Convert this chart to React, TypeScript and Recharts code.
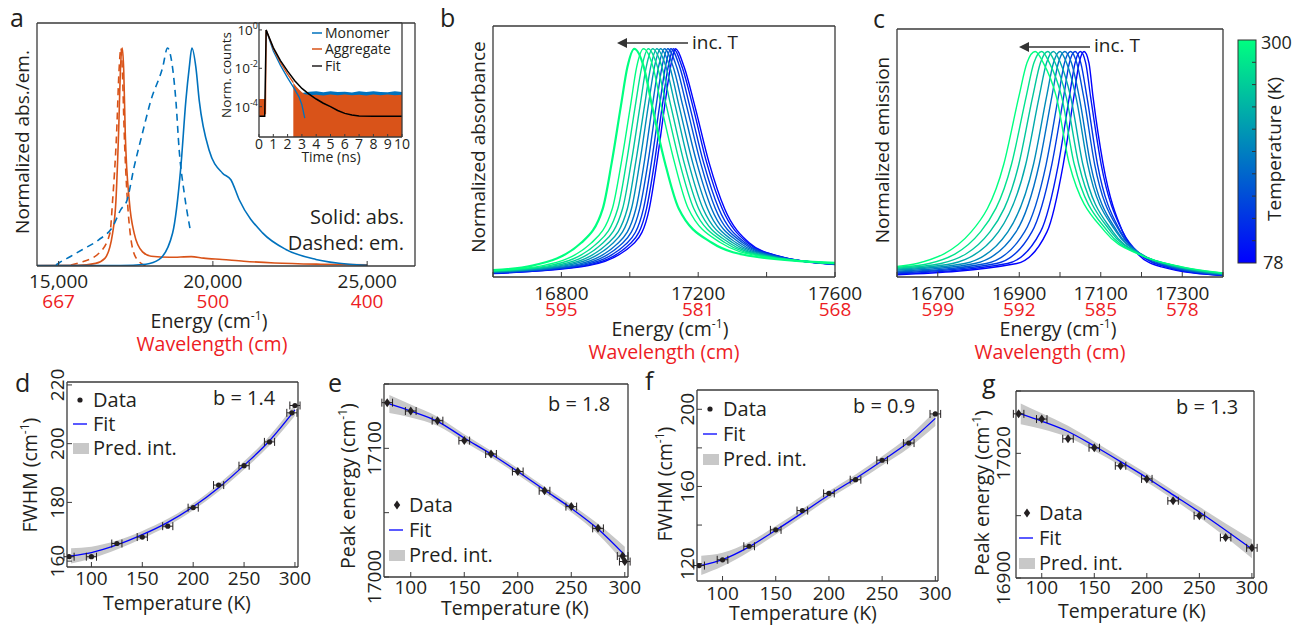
import React from "react";
import { LineChart, ComposedChart, Line, Area, Scatter, ErrorBar, XAxis, YAxis } from "recharts";

const FONT = "'Open Sans', 'DejaVu Sans', sans-serif";
const INK = "#231f20";
const RED = "#ed1c24";
const AXIS = "#3a3a3a";
const BLUE = "#0072bd";
const ORANGE = "#d95319";
const FIT = "#0000ff";
const BAND = "#c8c8c8";

// ---------- panel a: monomer / aggregate spectra ----------
const aDomain = [14300, 26550];
const aTicks = [15000, 20000, 25000];
const aTickText = ["15,000", "20,000", "25,000"];
const aWave = ["667", "500", "400"];

const monoAbsE = [14300, 17000, 17829, 18261, 18693, 18963, 19125, 19234, 19320, 19450, 19557, 19881, 20313, 20583, 20853, 21609, 22365, 23337, 24417, 25000];
const monoAbsV = [0.002, 0.002, 0.008, 0.03, 0.15, 0.457, 0.76, 0.91, 1.0, 0.91, 0.76, 0.53, 0.426, 0.396, 0.304, 0.152, 0.076, 0.03, 0.008, 0.003];
const monoEmE = [14914, 15022, 15400, 15777, 16300, 16750, 17020, 17214, 17451, 17700, 17991, 18370, 18531, 18693, 18800, 18909, 19071, 19266];
const monoEmV = [0.005, 0.015, 0.045, 0.076, 0.12, 0.18, 0.26, 0.3, 0.457, 0.6, 0.76, 0.91, 1.0, 0.91, 0.76, 0.53, 0.335, 0.167];
const aggAbsE = [14300, 15600, 16200, 16500, 16750, 16858, 16944, 17010, 17063, 17110, 17160, 17290, 17450, 17720, 18000, 18600, 19300, 19700, 20300, 21000, 22000, 23500, 25000];
const aggAbsV = [0.002, 0.003, 0.012, 0.035, 0.15, 0.3, 0.61, 0.92, 1.0, 0.9, 0.61, 0.3, 0.15, 0.065, 0.045, 0.04, 0.043, 0.036, 0.03, 0.022, 0.014, 0.008, 0.005];
const aggEmE = [15400, 15670, 16318, 16663, 16750, 16880, 16960, 17020, 17070, 17127, 17230, 17320, 17500, 17830];
const aggEmV = [0.005, 0.015, 0.06, 0.15, 0.3, 0.61, 0.9, 1.0, 0.88, 0.61, 0.3, 0.15, 0.04, 0.0];

// inset: decay traces, log10 of normalized counts vs time (ns)
const insetDomain = [-5.58, 0.36];
const insetFloor = -5.58;
const fitT = [0, 0.4, 0.5, 1, 1.5, 2, 2.5, 3, 3.5, 4, 4.5, 5, 5.5, 6, 6.5, 7, 8, 10];
const fitLog = [-4.5, -4.5, 0, -0.92, -1.6, -2.15, -2.65, -3.05, -3.35, -3.6, -3.82, -4.0, -4.2, -4.35, -4.43, -4.48, -4.5, -4.5];
const monoT = [0.5, 1, 1.5, 2, 2.5, 2.8, 3.0, 3.2];
const monoLog = [0, -1.1, -1.85, -2.5, -3.1, -3.5, -3.9, -4.6];
const aggT = [0.45, 0.5, 1, 1.5, 2, 2.4];
const aggLog = [-4.4, 0, -0.98, -1.7, -2.3, -2.75];
const aggNoiseT = [2.4, 2.6, 2.8, 3.0, 3.2, 3.6, 4, 4.5, 5, 5.5, 6, 6.5, 7, 7.5, 8, 8.5, 9, 9.5, 10];
const aggNoiseTop = [-2.75, -2.95, -3.1, -3.25, -3.35, -3.4, -3.38, -3.42, -3.37, -3.41, -3.36, -3.4, -3.38, -3.42, -3.37, -3.4, -3.36, -3.41, -3.38];
const monoNoiseT = [2.9, 3.5, 4, 4.5, 5, 5.5, 6, 6.5, 7, 7.5, 8, 8.5, 9, 9.5, 10];
const monoNoiseTop = [-3.3, -3.22, -3.2, -3.25, -3.19, -3.24, -3.22, -3.26, -3.2, -3.24, -3.2, -3.23, -3.25, -3.2, -3.24];
const monoNoiseLow = -3.5;
const preT = [0, 0.42];
const preLow = [-4.5, -4.5];
const preTop = [-3.6, -3.6];
const timeTicks = [0, 1, 2, 3, 4, 5, 6, 7, 8, 9, 10];

// ---------- panel b: absorbance vs temperature ----------
const bDomain = [16600, 17600];
const bTicks = [16600, 16800, 17000, 17200, 17400, 17600];
const bLabelTicks = [16800, 17200, 17600];
const bWave = ["595", "581", "568"];
const absT = [78, 100, 125, 150, 175, 200, 225, 250, 275, 298, 300];
const absLevels = [0.05, 0.15, 0.3, 0.5, 0.75, 0.92, 1, 0.92, 0.75, 0.5, 0.3, 0.15, 0.09];
const absEnergy = [
  [16879, 17014, 17057, 17079, 17102, 17119, 17134, 17159, 17190, 17232, 17277, 17349, 17439],
  [16869, 17004, 17049, 17072, 17095, 17112, 17128, 17153, 17184, 17225, 17270, 17344, 17438],
  [16856, 16993, 17040, 17063, 17087, 17104, 17120, 17146, 17175, 17216, 17260, 17337, 17434],
  [16843, 16980, 17029, 17053, 17077, 17094, 17111, 17137, 17166, 17207, 17250, 17330, 17430],
  [16829, 16967, 17018, 17042, 17066, 17084, 17101, 17127, 17155, 17196, 17239, 17321, 17424],
  [16813, 16952, 17005, 17029, 17054, 17072, 17090, 17117, 17144, 17184, 17227, 17311, 17418],
  [16798, 16938, 16993, 17017, 17043, 17061, 17079, 17106, 17133, 17172, 17214, 17301, 17411],
  [16782, 16922, 16979, 17004, 17030, 17048, 17067, 17094, 17120, 17159, 17201, 17290, 17404],
  [16765, 16906, 16965, 16990, 17016, 17035, 17054, 17081, 17107, 17146, 17187, 17279, 17395],
  [16746, 16888, 16949, 16975, 17002, 17020, 17040, 17068, 17092, 17131, 17171, 17266, 17386],
  [16715, 16858, 16921, 16947, 16974, 16993, 17013, 17041, 17065, 17103, 17143, 17240, 17363],
];
const absEdgeLow = [0.015, 0.016, 0.018, 0.019, 0.021, 0.022, 0.024, 0.025, 0.027, 0.028, 0.03];
const absEdgeHigh = [0.055, 0.056, 0.056, 0.057, 0.058, 0.058, 0.059, 0.06, 0.06, 0.061, 0.062];

// ---------- panel c: emission vs temperature ----------
const cDomain = [16600, 17400];
const cTicks = [16600, 16700, 16800, 16900, 17000, 17100, 17200, 17300, 17400];
const cLabelTicks = [16700, 16900, 17100, 17300];
const cWave = ["599", "592", "585", "578"];
const emT = [78, 100, 125, 150, 175, 200, 225, 250, 275, 300];
const emLevels = [0.06, 0.2, 0.5, 0.8, 0.95, 1, 0.95, 0.8, 0.5, 0.2, 0.1, 0.045];
const emEnergy = [
  [16894, 16968, 17008, 17034, 17047, 17059, 17071, 17081, 17106, 17154, 17192, 17249],
  [16871, 16952, 16996, 17023, 17037, 17050, 17063, 17075, 17101, 17154, 17197, 17259],
  [16844, 16931, 16980, 17009, 17023, 17037, 17051, 17066, 17092, 17149, 17197, 17265],
  [16819, 16913, 16966, 16996, 17011, 17026, 17041, 17058, 17085, 17147, 17200, 17273],
  [16791, 16892, 16949, 16980, 16996, 17012, 17028, 17047, 17075, 17141, 17199, 17278],
  [16766, 16872, 16935, 16967, 16984, 17000, 17016, 17039, 17068, 17138, 17201, 17284],
  [16736, 16849, 16916, 16949, 16967, 16984, 17001, 17026, 17056, 17130, 17198, 17287],
  [16708, 16828, 16899, 16933, 16952, 16970, 16988, 17015, 17046, 17125, 17198, 17292],
  [16679, 16805, 16881, 16917, 16936, 16955, 16974, 17004, 17035, 17118, 17196, 17296],
  [16649, 16782, 16862, 16899, 16919, 16939, 16959, 16991, 17023, 17111, 17194, 17299],
];
const emEdgeLow = [0.01, 0.014, 0.018, 0.022, 0.026, 0.031, 0.035, 0.039, 0.043, 0.047];
const emEdgeHigh = [0.006, 0.007, 0.009, 0.01, 0.011, 0.013, 0.014, 0.015, 0.017, 0.018];

// ---------- panels d-g: widths and peak positions vs temperature ----------
const tempTicks = [100, 150, 200, 250, 300];
const tempErr = 5;
const fitTemps = [80, 100, 125, 150, 175, 200, 225, 250, 275, 300];

const dT = [78, 100, 125, 150, 175, 200, 225, 250, 275, 297, 300];
const dV = [161.5, 161.5, 166, 168.2, 171.9, 178.2, 185.9, 192.5, 200.6, 210.5, 213];
const dFit = [161.8, 162.9, 165.5, 169.0, 173.2, 178.5, 185.0, 192.6, 201.0, 211.5];
const dLo = [159.2, 160.9, 164.0, 167.7, 172.0, 177.3, 183.7, 191.2, 199.4, 209.5];
const dHi = [164.4, 164.9, 167.0, 170.3, 174.4, 179.7, 186.3, 194.0, 202.6, 213.5];

const eT = [78, 100, 125, 150, 175, 200, 225, 250, 275, 298, 300];
const eV = [17135.5, 17129, 17121.5, 17106, 17095.6, 17082, 17067, 17054.7, 17037.8, 17016.3, 17012];
const eFit = [17134.5, 17129, 17121, 17108, 17095.6, 17082, 17067.6, 17053.4, 17037.3, 17017];
const eLo = [17127.5, 17124, 17117.5, 17105, 17093, 17079.5, 17065, 17050.4, 17033.3, 17010.5];
const eHi = [17141.5, 17134, 17124.5, 17111, 17098.2, 17084.5, 17070.2, 17056.4, 17041.3, 17023.5];

const fT = [78, 100, 125, 150, 175, 200, 225, 250, 275, 300];
const fV = [119, 122, 129, 137.5, 147.5, 156.4, 163.5, 173.6, 182.5, 197.6];
const fFit = [119.1, 122.1, 128.7, 137.3, 146.3, 155.6, 164.1, 173.3, 183.0, 195.3];
const fLo = [114.1, 118.6, 126.2, 135.1, 144.3, 153.6, 162.0, 170.9, 180.0, 191.3];
const fHi = [124.1, 125.6, 131.2, 139.5, 148.3, 157.6, 166.2, 175.7, 186.0, 199.3];

const gT = [78, 100, 125, 150, 175, 200, 225, 250, 275, 300];
const gV = [17058, 17053, 17034, 17025.4, 17008, 16995.4, 16974.3, 16960, 16939, 16929];
const gFit = [17058, 17051, 17041, 17027, 17012, 16996.5, 16980, 16963.5, 16946, 16928];
const gLo = [17048, 17043.5, 17035.5, 17022.5, 17008, 16992.5, 16975.7, 16958.5, 16939.5, 16919];
const gHi = [17068, 17058.5, 17046.5, 17031.5, 17016, 17000.5, 16984.3, 16968.5, 16952.5, 16937];

// ---------- helpers ----------
const pairs = (xs: number[], ys: number[]) => xs.map((x, i) => ({ x, y: ys[i] }));
const rangeRows = (ts: number[], lo: number[] | number, hi: number[]) =>
  ts.map((t, i) => ({ x: t, r: [Array.isArray(lo) ? lo[i] : lo, hi[i]] }));

function winter(T: number) {
  const f = (T - 78) / (300 - 78);
  return `rgb(0, ${Math.round(255 * f)}, ${Math.round(255 * (1 - 0.5 * f))})`;
}

const absCurves = absT.map((_, i) => [
  { x: bDomain[0], y: absEdgeLow[i] },
  ...absEnergy[i].map((x, k) => ({ x, y: absLevels[k] })),
  { x: bDomain[1], y: absEdgeHigh[i] },
]);
const emCurves = emT.map((_, i) => [
  { x: cDomain[0], y: emEdgeLow[i] },
  ...emEnergy[i].map((x, k) => ({ x, y: emLevels[k] })),
  { x: cDomain[1], y: emEdgeHigh[i] },
]);

const fitRows = (fit: number[], lo: number[], hi: number[]) =>
  fitTemps.map((T, i) => ({ T, fit: fit[i], band: [lo[i], hi[i]] }));
const points = (ts: number[], vs: number[]) => ts.map((T, i) => ({ T, v: vs[i], e: tempErr }));

// the frame axes take 1px each on the top and right, so the margins give that pixel back
const fm = (m: any) => ({ ...m, top: m.top - 1, right: m.right - 1 });

const axisLine = { stroke: AXIS, strokeWidth: 1.3 };
const tickLine = { stroke: AXIS, strokeWidth: 1 };

function bottomTick(labelTicks: number[], texts: string[], red: string[] | null, d1: number, d2: number) {
  return (p: any) => {
    const i = labelTicks.indexOf(p.payload.value);
    if (i < 0) return <g />;
    return (
      <g>
        <text x={p.x} y={p.y + d1} textAnchor="middle" fontSize={19} fill={INK} fontFamily={FONT}>{texts[i]}</text>
        {red && <text x={p.x} y={p.y + d2} textAnchor="middle" fontSize={19} fill={RED} fontFamily={FONT}>{red[i]}</text>}
      </g>
    );
  };
}

function leftRotTick(labelTicks: number[], dx: number) {
  return (p: any) => {
    const i = labelTicks.indexOf(p.payload.value);
    if (i < 0) return <g />;
    return (
      <text transform={`translate(${p.x - dx},${p.y}) rotate(-90)`} y={6.5} textAnchor="middle" fontSize={19} fill={INK} fontFamily={FONT}>
        {labelTicks[i]}
      </text>
    );
  };
}

const dotShape = (p: any) => <circle cx={p.cx} cy={p.cy} r={2.6} fill={INK} />;
const diamondShape = (p: any) => (
  <path d={`M${p.cx},${p.cy - 4.5}L${p.cx + 3.2},${p.cy}L${p.cx},${p.cy + 4.5}L${p.cx - 3.2},${p.cy}Z`} fill={INK} />
);

function frame(xDomain: number[], yDomain: number[], xTicks: number[], yTicks: number[], size = -5) {
  return [
    <XAxis key="ft" xAxisId="top" orientation="top" type="number" domain={xDomain} allowDataOverflow ticks={xTicks} interval={0}
      height={1} tick={false} tickSize={size} axisLine={axisLine} tickLine={tickLine} />,
    <YAxis key="fr" yAxisId="r" orientation="right" type="number" domain={yDomain} allowDataOverflow ticks={yTicks} interval={0}
      width={1} tick={false} tickSize={size} axisLine={axisLine} tickLine={yTicks.length ? tickLine : false} />,
  ];
}

function FitPanel({ box, yAxisW, xDomain, yDomain, yTicks, yLabelTicks, rows, pts, marker, tickDy, yDx }: any) {
  return (
    <div style={{ position: "absolute", left: box.left, top: box.top }}>
      <ComposedChart width={box.w} height={box.h} margin={fm(box.m)} data={rows}>
        <XAxis dataKey="T" type="number" domain={xDomain} allowDataOverflow ticks={tempTicks} interval={0} height={33}
          tickSize={-5} tickMargin={5} axisLine={axisLine} tickLine={tickLine}
          tick={bottomTick(tempTicks, tempTicks.map(String), null, tickDy, 0)} />
        <YAxis type="number" domain={yDomain} allowDataOverflow ticks={yTicks} interval={0} width={yAxisW}
          tickSize={-5} tickMargin={5} axisLine={axisLine} tickLine={tickLine} tick={leftRotTick(yLabelTicks, yDx)} />
        {frame(xDomain, yDomain, tempTicks, yTicks)}
        <Area dataKey="band" type="monotone" fill={BAND} fillOpacity={1} stroke="none" isAnimationActive={false} />
        <Line dataKey="fit" type="monotone" stroke={FIT} strokeWidth={1.3} dot={false} isAnimationActive={false} />
        <Scatter data={pts} dataKey="v" shape={marker} isAnimationActive={false}>
          <ErrorBar dataKey="e" direction="x" width={4} stroke={INK} strokeWidth={1} />
        </Scatter>
      </ComposedChart>
    </div>
  );
}

function Tx({ x, y, s = 19.5, a = "middle", c = INK, r = false, children }: any) {
  const props = { fontSize: s, fill: c, fontFamily: FONT, textAnchor: a };
  if (r) return <text {...props} transform={`translate(${x},${y}) rotate(-90)`} y={s * 0.35}>{children}</text>;
  return <text {...props} x={x} y={y + s * 0.35}>{children}</text>;
}
function Unit({ s = 19.5 }: any) {
  return (
    <>
      (cm<tspan dy={-s * 0.4} fontSize={s * 0.62}>-1</tspan>
      <tspan dy={s * 0.4}>)</tspan>
    </>
  );
}

function Legend({ x, y, gap, marker, bx, by, bText }: any) {
  return (
    <g>
      {marker === "dot" ? (
        <circle cx={x + 7} cy={y} r={2.6} fill={INK} />
      ) : (
        <path d={`M${x + 8},${y - 4.5}L${x + 11.2},${y}L${x + 8},${y + 4.5}L${x + 4.8},${y}Z`} fill={INK} />
      )}
      <Tx x={x + 20} y={y} s={20} a="start">Data</Tx>
      <line x1={x} x2={x + 14} y1={y + gap} y2={y + gap} stroke={FIT} strokeWidth={1.3} />
      <Tx x={x + 20} y={y + gap} s={20} a="start">Fit</Tx>
      <rect x={x} y={y + 2 * gap - 5} width={16} height={11} fill={BAND} />
      <Tx x={x + 20} y={y + 2 * gap} s={20} a="start">Pred. int.</Tx>
      <Tx x={bx} y={by} s={20} a="start">{bText}</Tx>
    </g>
  );
}

function Overlay() {
  const cbTicks = [1, 2, 3, 4, 5, 6, 7, 8, 9];
  return (
    <svg width={1294} height={625} style={{ position: "absolute", left: 0, top: 0, pointerEvents: "none" }}>
      <defs>
        <linearGradient id="winterBar" x1="0" y1="0" x2="0" y2="1">
          <stop offset="0%" stopColor={winter(300)} />
          <stop offset="100%" stopColor={winter(78)} />
        </linearGradient>
      </defs>
      {/* panel letters */}
      <text x={10} y={27} fontSize={25} fill={INK} fontFamily={FONT}>a</text>
      <text x={440} y={27} fontSize={25} fill={INK} fontFamily={FONT}>b</text>
      <text x={873} y={28} fontSize={25} fill={INK} fontFamily={FONT}>c</text>
      <text x={15} y={392} fontSize={25} fill={INK} fontFamily={FONT}>d</text>
      <text x={328} y={392} fontSize={25} fill={INK} fontFamily={FONT}>e</text>
      <text x={645} y={390} fontSize={25} fill={INK} fontFamily={FONT}>f</text>
      <text x={982} y={393} fontSize={25} fill={INK} fontFamily={FONT}>g</text>

      {/* panel a */}
      <Tx x={22} y={142} r s={19}>Normalized abs./em.</Tx>
      <Tx x={404} y={217} s={20} a="end">Solid: abs.</Tx>
      <Tx x={404} y={243} s={20} a="end">Dashed: em.</Tx>
      <Tx x={209} y={321}>Energy <Unit /></Tx>
      <Tx x={212} y={344} c={RED}>Wavelength (cm)</Tx>
      <Tx x={226} y={75} r s={13.5}>Norm. counts</Tx>
      <Tx x={331} y={157} s={14}>Time (ns)</Tx>
      <line x1={312} x2={322} y1={33} y2={33} stroke={BLUE} strokeWidth={1.5} />
      <line x1={312} x2={322} y1={49} y2={49} stroke={ORANGE} strokeWidth={1.5} />
      <line x1={312} x2={322} y1={66} y2={66} stroke={INK} strokeWidth={1.5} />
      <Tx x={325} y={33} s={14} a="start">Monomer</Tx>
      <Tx x={325} y={49} s={14} a="start">Aggregate</Tx>
      <Tx x={325} y={66} s={14} a="start">Fit</Tx>

      {/* panel b */}
      <Tx x={478} y={147} r s={19}>Normalized absorbance</Tx>
      <line x1={688} x2={624} y1={43} y2={43} stroke="#333" strokeWidth={1.6} />
      <path d="M617,43 L627,38 L627,48 Z" fill="#333" />
      <Tx x={692} y={42} s={19} a="start">inc. T</Tx>
      <Tx x={670} y={329}>Energy <Unit /></Tx>
      <Tx x={664} y={352} c={RED}>Wavelength (cm)</Tx>

      {/* panel c */}
      <Tx x={882} y={150} r s={19}>Normalized emission</Tx>
      <line x1={1090} x2={1026} y1={47} y2={47} stroke="#333" strokeWidth={1.6} />
      <path d="M1019,47 L1029,42 L1029,52 Z" fill="#333" />
      <Tx x={1094} y={45} s={19} a="start">inc. T</Tx>
      <Tx x={1058} y={329}>Energy <Unit /></Tx>
      <Tx x={1050} y={352} c={RED}>Wavelength (cm)</Tx>
      <rect x={1238} y={40} width={18} height={223} fill="url(#winterBar)" stroke="#333" strokeWidth={1} />
      {cbTicks.map((k) => (
        <line key={k} x1={1252} x2={1256} y1={40 + 22.3 * k} y2={40 + 22.3 * k} stroke="#333" strokeWidth={1} />
      ))}
      <Tx x={1261} y={43} s={18} a="start">300</Tx>
      <Tx x={1263} y={263} s={18} a="start">78</Tx>
      <Tx x={1274} y={149} r s={19}>Temperature (K)</Tx>

      {/* panel d */}
      <Tx x={30} y={475} r>FWHM <Unit /></Tx>
      <Tx x={177} y={603}>Temperature (K)</Tx>
      <Legend x={73} y={400} gap={24} marker="dot" bx={213} by={398} bText="b = 1.4" />

      {/* panel e */}
      <Tx x={348} y={486} r>Peak energy <Unit /></Tx>
      <Tx x={515} y={608}>Temperature (K)</Tx>
      <Legend x={389} y={505} gap={25} marker="diamond" bx={548} by={404} bText="b = 1.8" />

      {/* panel f */}
      <Tx x={665} y={484} r>FWHM <Unit /></Tx>
      <Tx x={803} y={613}>Temperature (K)</Tx>
      <Legend x={703} y={409} gap={25} marker="dot" bx={853} by={406} bText="b = 0.9" />

      {/* panel g */}
      <Tx x={982} y={493} r>Peak energy <Unit /></Tx>
      <Tx x={1132} y={611}>Temperature (K)</Tx>
      <Legend x={1019} y={513} gap={25} marker="diamond" bx={1176} by={407} bText="b = 1.3" />
    </svg>
  );
}

export default function App() {
  return (
    <div style={{ position: "absolute", left: 0, top: 0, width: 1294, height: 625, background: "#fff", overflow: "hidden", fontFamily: FONT }}>
      {/* a: spectra */}
      <div style={{ position: "absolute", left: 0, top: 0 }}>
        <LineChart width={440} height={360} margin={fm({ top: 23, right: 25, bottom: 60, left: 0 })}>
          <XAxis dataKey="x" type="number" domain={aDomain} allowDataOverflow ticks={aTicks} interval={0} height={34}
            tickSize={-5} tickMargin={5} axisLine={axisLine} tickLine={tickLine}
            tick={bottomTick(aTicks, aTickText, aWave, 21.5, 41.5)} />
          <YAxis type="number" domain={[0, 1.115]} allowDataOverflow width={37} tick={false} tickLine={false} axisLine={axisLine} />
          {frame(aDomain, [0, 1.115], aTicks, [])}
          <Line data={pairs(aggAbsE, aggAbsV)} dataKey="y" type="monotone" stroke={ORANGE} strokeWidth={1.6} dot={false} isAnimationActive={false} />
          <Line data={pairs(aggEmE, aggEmV)} dataKey="y" type="monotone" stroke={ORANGE} strokeWidth={1.6} strokeDasharray="7 5" dot={false} isAnimationActive={false} />
          <Line data={pairs(monoEmE, monoEmV)} dataKey="y" type="monotone" stroke={BLUE} strokeWidth={1.6} strokeDasharray="7 5" dot={false} isAnimationActive={false} />
          <Line data={pairs(monoAbsE, monoAbsV)} dataKey="y" type="monotone" stroke={BLUE} strokeWidth={1.6} dot={false} isAnimationActive={false} />
        </LineChart>
      </div>

      {/* a: inset */}
      <div style={{ position: "absolute", left: 259, top: 23, width: 143, height: 114, background: "#fff" }} />
      <div style={{ position: "absolute", left: 215, top: 0 }}>
        <ComposedChart width={200} height={170} margin={fm({ top: 23, right: 13, bottom: 5, left: 0 })}>
          <XAxis dataKey="x" type="number" domain={[0, 10]} allowDataOverflow ticks={timeTicks} interval={0} height={28}
            tickSize={-3} tickMargin={3} axisLine={axisLine} tickLine={tickLine}
            tick={(p: any) => (
              <text x={p.x} y={p.y + 12} textAnchor="middle" fontSize={14} fill={INK} fontFamily={FONT}>{p.payload.value}</text>
            )} />
          <YAxis type="number" domain={insetDomain} allowDataOverflow ticks={[0, -2, -4]} interval={0} width={44}
            tickSize={-3} tickMargin={3} axisLine={axisLine} tickLine={tickLine}
            tick={(p: any) => (
              <text x={p.x - 1} y={p.y + 5} textAnchor="end" fontSize={13.5} fill={INK} fontFamily={FONT}>
                10<tspan dy={-6} fontSize={9}>{p.payload.value}</tspan>
              </text>
            )} />
          {frame([0, 10], insetDomain, timeTicks, [0, -2, -4], -3)}
          <Area data={rangeRows(monoNoiseT, monoNoiseLow, monoNoiseTop)} dataKey="r" type="linear" fill={BLUE} fillOpacity={1} stroke="none" isAnimationActive={false} />
          <Area data={rangeRows(aggNoiseT, insetFloor, aggNoiseTop)} dataKey="r" type="linear" fill={ORANGE} fillOpacity={1} stroke="none" isAnimationActive={false} />
          <Area data={rangeRows(preT, preLow, preTop)} dataKey="r" type="linear" fill={ORANGE} fillOpacity={1} stroke="none" isAnimationActive={false} />
          <Line data={pairs(monoT, monoLog)} dataKey="y" type="linear" stroke={BLUE} strokeWidth={1.3} dot={false} isAnimationActive={false} />
          <Line data={pairs(aggT, aggLog)} dataKey="y" type="linear" stroke={ORANGE} strokeWidth={1.3} dot={false} isAnimationActive={false} />
          <Line data={pairs(fitT, fitLog)} dataKey="y" type="linear" stroke="#000" strokeWidth={1.5} dot={false} isAnimationActive={false} />
        </ComposedChart>
      </div>

      {/* b */}
      <div style={{ position: "absolute", left: 430, top: 0 }}>
        <LineChart width={440} height={360} margin={fm({ top: 26, right: 35, bottom: 50, left: 0 })}>
          <XAxis dataKey="x" type="number" domain={bDomain} allowDataOverflow ticks={bTicks} interval={0} height={33}
            tickSize={-5} tickMargin={5} axisLine={axisLine} tickLine={tickLine}
            tick={bottomTick(bLabelTicks, bLabelTicks.map(String), bWave, 23, 39)} />
          <YAxis type="number" domain={[0, 1.1]} allowDataOverflow width={63} tick={false} tickLine={false} axisLine={axisLine} />
          {frame(bDomain, [0, 1.1], bTicks, [])}
          {absCurves.map((pts, i) => (
            <Line key={i} data={pts} dataKey="y" type="monotone" stroke={winter(absT[i])}
              strokeWidth={i === absCurves.length - 1 ? 2.2 : 1.4} dot={false} isAnimationActive={false} />
          ))}
        </LineChart>
      </div>

      {/* c */}
      <div style={{ position: "absolute", left: 860, top: 0 }}>
        <LineChart width={400} height={360} margin={fm({ top: 29, right: 37, bottom: 50, left: 0 })}>
          <XAxis dataKey="x" type="number" domain={cDomain} allowDataOverflow ticks={cTicks} interval={0} height={33}
            tickSize={-5} tickMargin={5} axisLine={axisLine} tickLine={tickLine}
            tick={bottomTick(cLabelTicks, cLabelTicks.map(String), cWave, 23, 39)} />
          <YAxis type="number" domain={[0, 1.1]} allowDataOverflow width={37} tick={false} tickLine={false} axisLine={axisLine} />
          {frame(cDomain, [0, 1.1], cTicks, [])}
          {emCurves.map((pts, i) => (
            <Line key={i} data={pts} dataKey="y" type="monotone" stroke={winter(emT[i])} strokeWidth={1.4} dot={false} isAnimationActive={false} />
          ))}
        </LineChart>
      </div>

      <FitPanel box={{ left: 0, top: 350, w: 340, h: 270, m: { top: 32, right: 42, bottom: 20, left: 0 } }}
        yAxisW={67} xDomain={[76, 303]} yDomain={[158, 221]} yTicks={[160, 180, 200, 220]} yLabelTicks={[160, 180, 200, 220]}
        rows={fitRows(dFit, dLo, dHi)} pts={points(dT, dV)} marker={dotShape} tickDy={18} yDx={10} />
      <FitPanel box={{ left: 310, top: 350, w: 360, h: 270, m: { top: 34, right: 42, bottom: 10, left: 0 } }}
        yAxisW={74} xDomain={[75, 303]} yDomain={[17000, 17150]} yTicks={[17000, 17050, 17100, 17150]} yLabelTicks={[17000, 17100]}
        rows={fitRows(eFit, eLo, eHi)} pts={points(eT, eV)} marker={diamondShape} tickDy={17} yDx={10} />
      <FitPanel box={{ left: 640, top: 350, w: 340, h: 270, m: { top: 40, right: 42, bottom: 6, left: 0 } }}
        yAxisW={57} xDomain={[76, 302.5]} yDomain={[111, 210]} yTicks={[120, 140, 160, 180, 200]} yLabelTicks={[120, 160, 200]}
        rows={fitRows(fFit, fLo, fHi)} pts={points(fT, fV)} marker={dotShape} tickDy={19} yDx={10} />
      <FitPanel box={{ left: 960, top: 350, w: 334, h: 275, m: { top: 41, right: 40, bottom: 14, left: 0 } }}
        yAxisW={56} xDomain={[75.5, 302]} yDomain={[16900, 17080]} yTicks={[16900, 16960, 17020, 17080]} yLabelTicks={[16900, 17020]}
        rows={fitRows(gFit, gLo, gHi)} pts={points(gT, gV)} marker={diamondShape} tickDy={16} yDx={13} />

      <Overlay />
    </div>
  );
}
